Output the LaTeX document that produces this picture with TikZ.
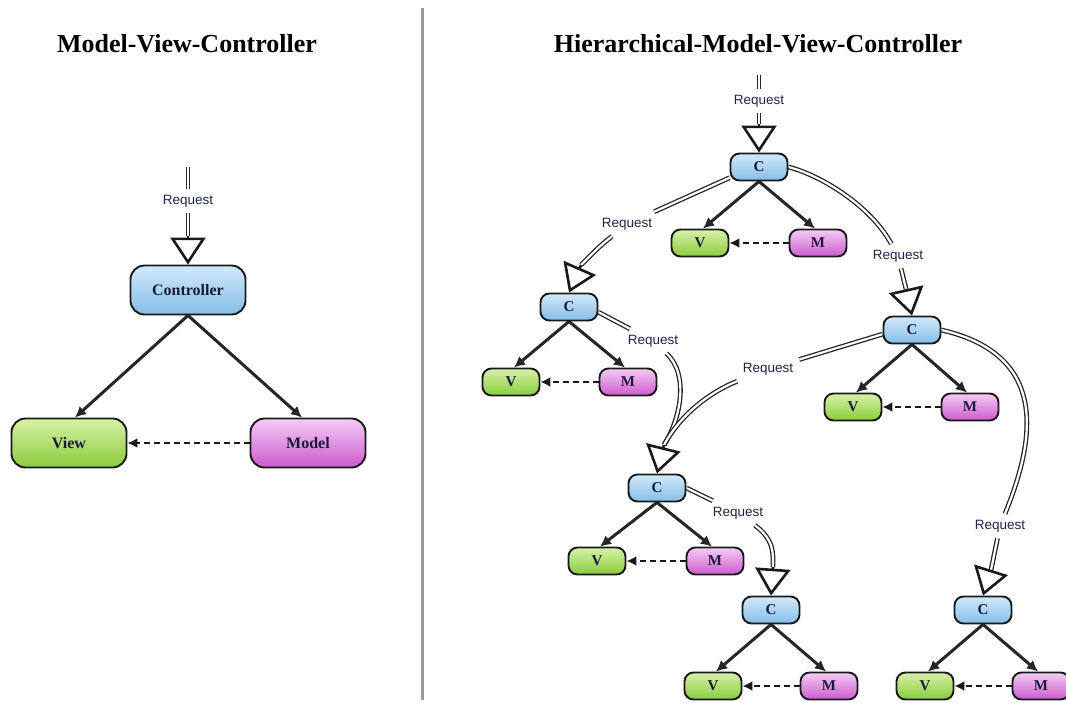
\documentclass[tikz,border=0pt]{standalone}
\usepackage{fontspec}
\setmainfont{Liberation Serif}
\newfontfamily\reqfont{Liberation Sans}
\usetikzlibrary{arrows.meta,backgrounds}
\definecolor{cblueA}{HTML}{D2E9F9}
\definecolor{cblueB}{HTML}{84BEE8}
\definecolor{cgreenA}{HTML}{D8F2A8}
\definecolor{cgreenB}{HTML}{8ACB3C}
\definecolor{cmagA}{HTML}{F6CCF6}
\definecolor{cmagB}{HTML}{CC5ACD}
\definecolor{textnavy}{HTML}{1A1A3A}
\definecolor{reqnavy}{HTML}{23234F}
\definecolor{divgray}{HTML}{9A9A9A}
\begin{document}
\begin{tikzpicture}[x=1pt,y=-1pt,
  titletext/.style={font=\fontsize{26}{30}\selectfont\bfseries, text=black, inner sep=0pt},
  boxbase/.style={draw=black!90, line width=1.9pt, text=textnavy, inner sep=0pt},
  bignode/.style={boxbase, rounded corners=14pt, minimum width=115pt, minimum height=49pt, font=\fontsize{16}{18}\selectfont\bfseries},
  smallnode/.style={boxbase, rounded corners=9pt, minimum width=57pt, minimum height=27pt, font=\fontsize{15}{17}\selectfont\bfseries},
  ctrlc/.style={top color=cblueA, bottom color=cblueB},
  viewc/.style={top color=cgreenA, bottom color=cgreenB},
  modelc/.style={top color=cmagA, bottom color=cmagB},
  reqlabel/.style={font=\reqfont\fontsize{13.5}{15}\selectfont, text=reqnavy, inner xsep=6pt, inner ysep=6pt},
  reqline/.style={draw=black!85, line width=1.3pt, double=white, double distance=2.2pt},
  reqtip/.style={draw=black!90, line width=2.6pt, -{Triangle[open,length=27pt,width=35pt]}},
  ctv/.style={draw=black!85, line width=3pt, -{Latex[length=11pt,width=11pt]}},
  dashv/.style={draw=black!90, line width=2.4pt, dash pattern=on 6pt off 4pt, -{Latex[length=10pt,width=10pt]}},
  divider/.style={draw=divgray, line width=3pt}
]
\useasboundingbox (0,0) rectangle (1066,702);

% titles
\node[titletext] (t1) at (187,44) {Model-View-Controller};
\node[titletext] (t2) at (758,44) {Hierarchical-Model-View-Controller};

% MVC nodes
\node[bignode, ctrlc] (ctrl) at (188,290) {Controller};
\node[bignode, viewc] (view) at (69,443) {View};
\node[bignode, modelc] (model) at (308,443) {Model};

% HMVC nodes
\node[smallnode, ctrlc] (c1) at (759,167) {C};
\node[smallnode, viewc] (v1) at (700,243) {V};
\node[smallnode, modelc] (m1) at (818,243) {M};
\node[smallnode, ctrlc] (c2) at (569,307) {C};
\node[smallnode, viewc] (v2) at (511,382) {V};
\node[smallnode, modelc] (m2) at (628,382) {M};
\node[smallnode, ctrlc] (c4) at (912,330) {C};
\node[smallnode, viewc] (v4) at (853,407) {V};
\node[smallnode, modelc] (m4) at (970,407) {M};
\node[smallnode, ctrlc] (c3) at (657,488) {C};
\node[smallnode, viewc] (v3) at (597,561) {V};
\node[smallnode, modelc] (m3) at (715,561) {M};
\node[smallnode, ctrlc] (c5) at (771,610) {C};
\node[smallnode, viewc] (v5) at (713,686) {V};
\node[smallnode, modelc] (m5) at (829,686) {M};
\node[smallnode, ctrlc] (c6) at (983,610) {C};
\node[smallnode, viewc] (v6) at (925,686) {V};
\node[smallnode, modelc] (m6) at (1041,686) {M};

% request labels
\node[reqlabel] (lab0) at (188,201) {Request};
\node[reqlabel] (labT) at (759,101) {Request};
\node[reqlabel] (lab1) at (627,224) {Request};
\node[reqlabel] (lab2) at (653,341) {Request};
\node[reqlabel] (lab3) at (768,369) {Request};
\node[reqlabel] (lab4) at (738,513) {Request};
\node[reqlabel] (lab5) at (898,256) {Request};
\node[reqlabel] (lab6) at (1000,526) {Request};

% free ends and triangle bases
\coordinate (s0) at (188,167);
\coordinate (b0) at (188,236);
\coordinate (sT) at (759,75);
\coordinate (bT) at (759,124);
\coordinate (b1) at (581,265);
\coordinate (b2) at (664,445);
\coordinate (b4) at (773,567);
\coordinate (b5) at (906,289);
\coordinate (b6) at (991,570);

\begin{pgfonlayer}{background}
\fill[white] (0,0) rectangle (1066,702);
\draw[divider] (422,8) -- (422,700);

% MVC
\draw[reqline] (s0) -- (lab0);
\draw[reqline] (lab0) -- (b0);
\draw[reqtip] (b0) -- (ctrl.north);
\draw[ctv] (ctrl.south) -- ([xshift=6pt]view.north);
\draw[ctv] (ctrl.south) -- ([xshift=-6pt]model.north);
\draw[dashv] (model.west) -- (view.east);

% HMVC requests
\draw[reqline] (sT) -- (labT);
\draw[reqline] (labT) -- (bT);
\draw[reqtip] (bT) -- (c1.north);

\draw[reqline] (c1.200) -- (lab1);
\draw[reqline] (lab1) .. controls (600,246) .. (b1);
\draw[reqtip] (b1) -- (c2.north);

\draw[reqline] (c2.-10) -- (lab2);
\draw[reqline] (lab2) .. controls (690,375) and (680,420) .. (b2);
\draw[reqline] (c4.188) -- (lab3);
\draw[reqline] (lab3) .. controls (710,392) and (680,415) .. (b2);
\draw[reqtip] (b2) -- (c3.north);

\draw[reqline] (c3.east) -- (lab4);
\draw[reqline] (lab4) .. controls (775,540) and (773,555) .. (b4);
\draw[reqtip] (b4) -- (c5.north);

\draw[reqline] (c1.east) .. controls (820,175) and (870,205) .. (lab5);
\draw[reqline] (lab5) -- (b5);
\draw[reqtip] (b5) -- (c4.north);

\draw[reqline] (c4.east) .. controls (1050,355) and (1035,440) .. (lab6);
\draw[reqline] (lab6) -- (b6);
\draw[reqtip] (b6) -- (c6.north);

% C -> V / M and M -> V
\foreach \c/\v/\m in {c1/v1/m1, c2/v2/m2, c3/v3/m3, c4/v4/m4, c5/v5/m5, c6/v6/m6}{
  \draw[ctv] (\c.south) -- ([xshift=3pt]\v.north);
  \draw[ctv] (\c.south) -- ([xshift=-3pt]\m.north);
  \draw[dashv] (\m.west) -- (\v.east);
}
\end{pgfonlayer}
\end{tikzpicture}
\end{document}
